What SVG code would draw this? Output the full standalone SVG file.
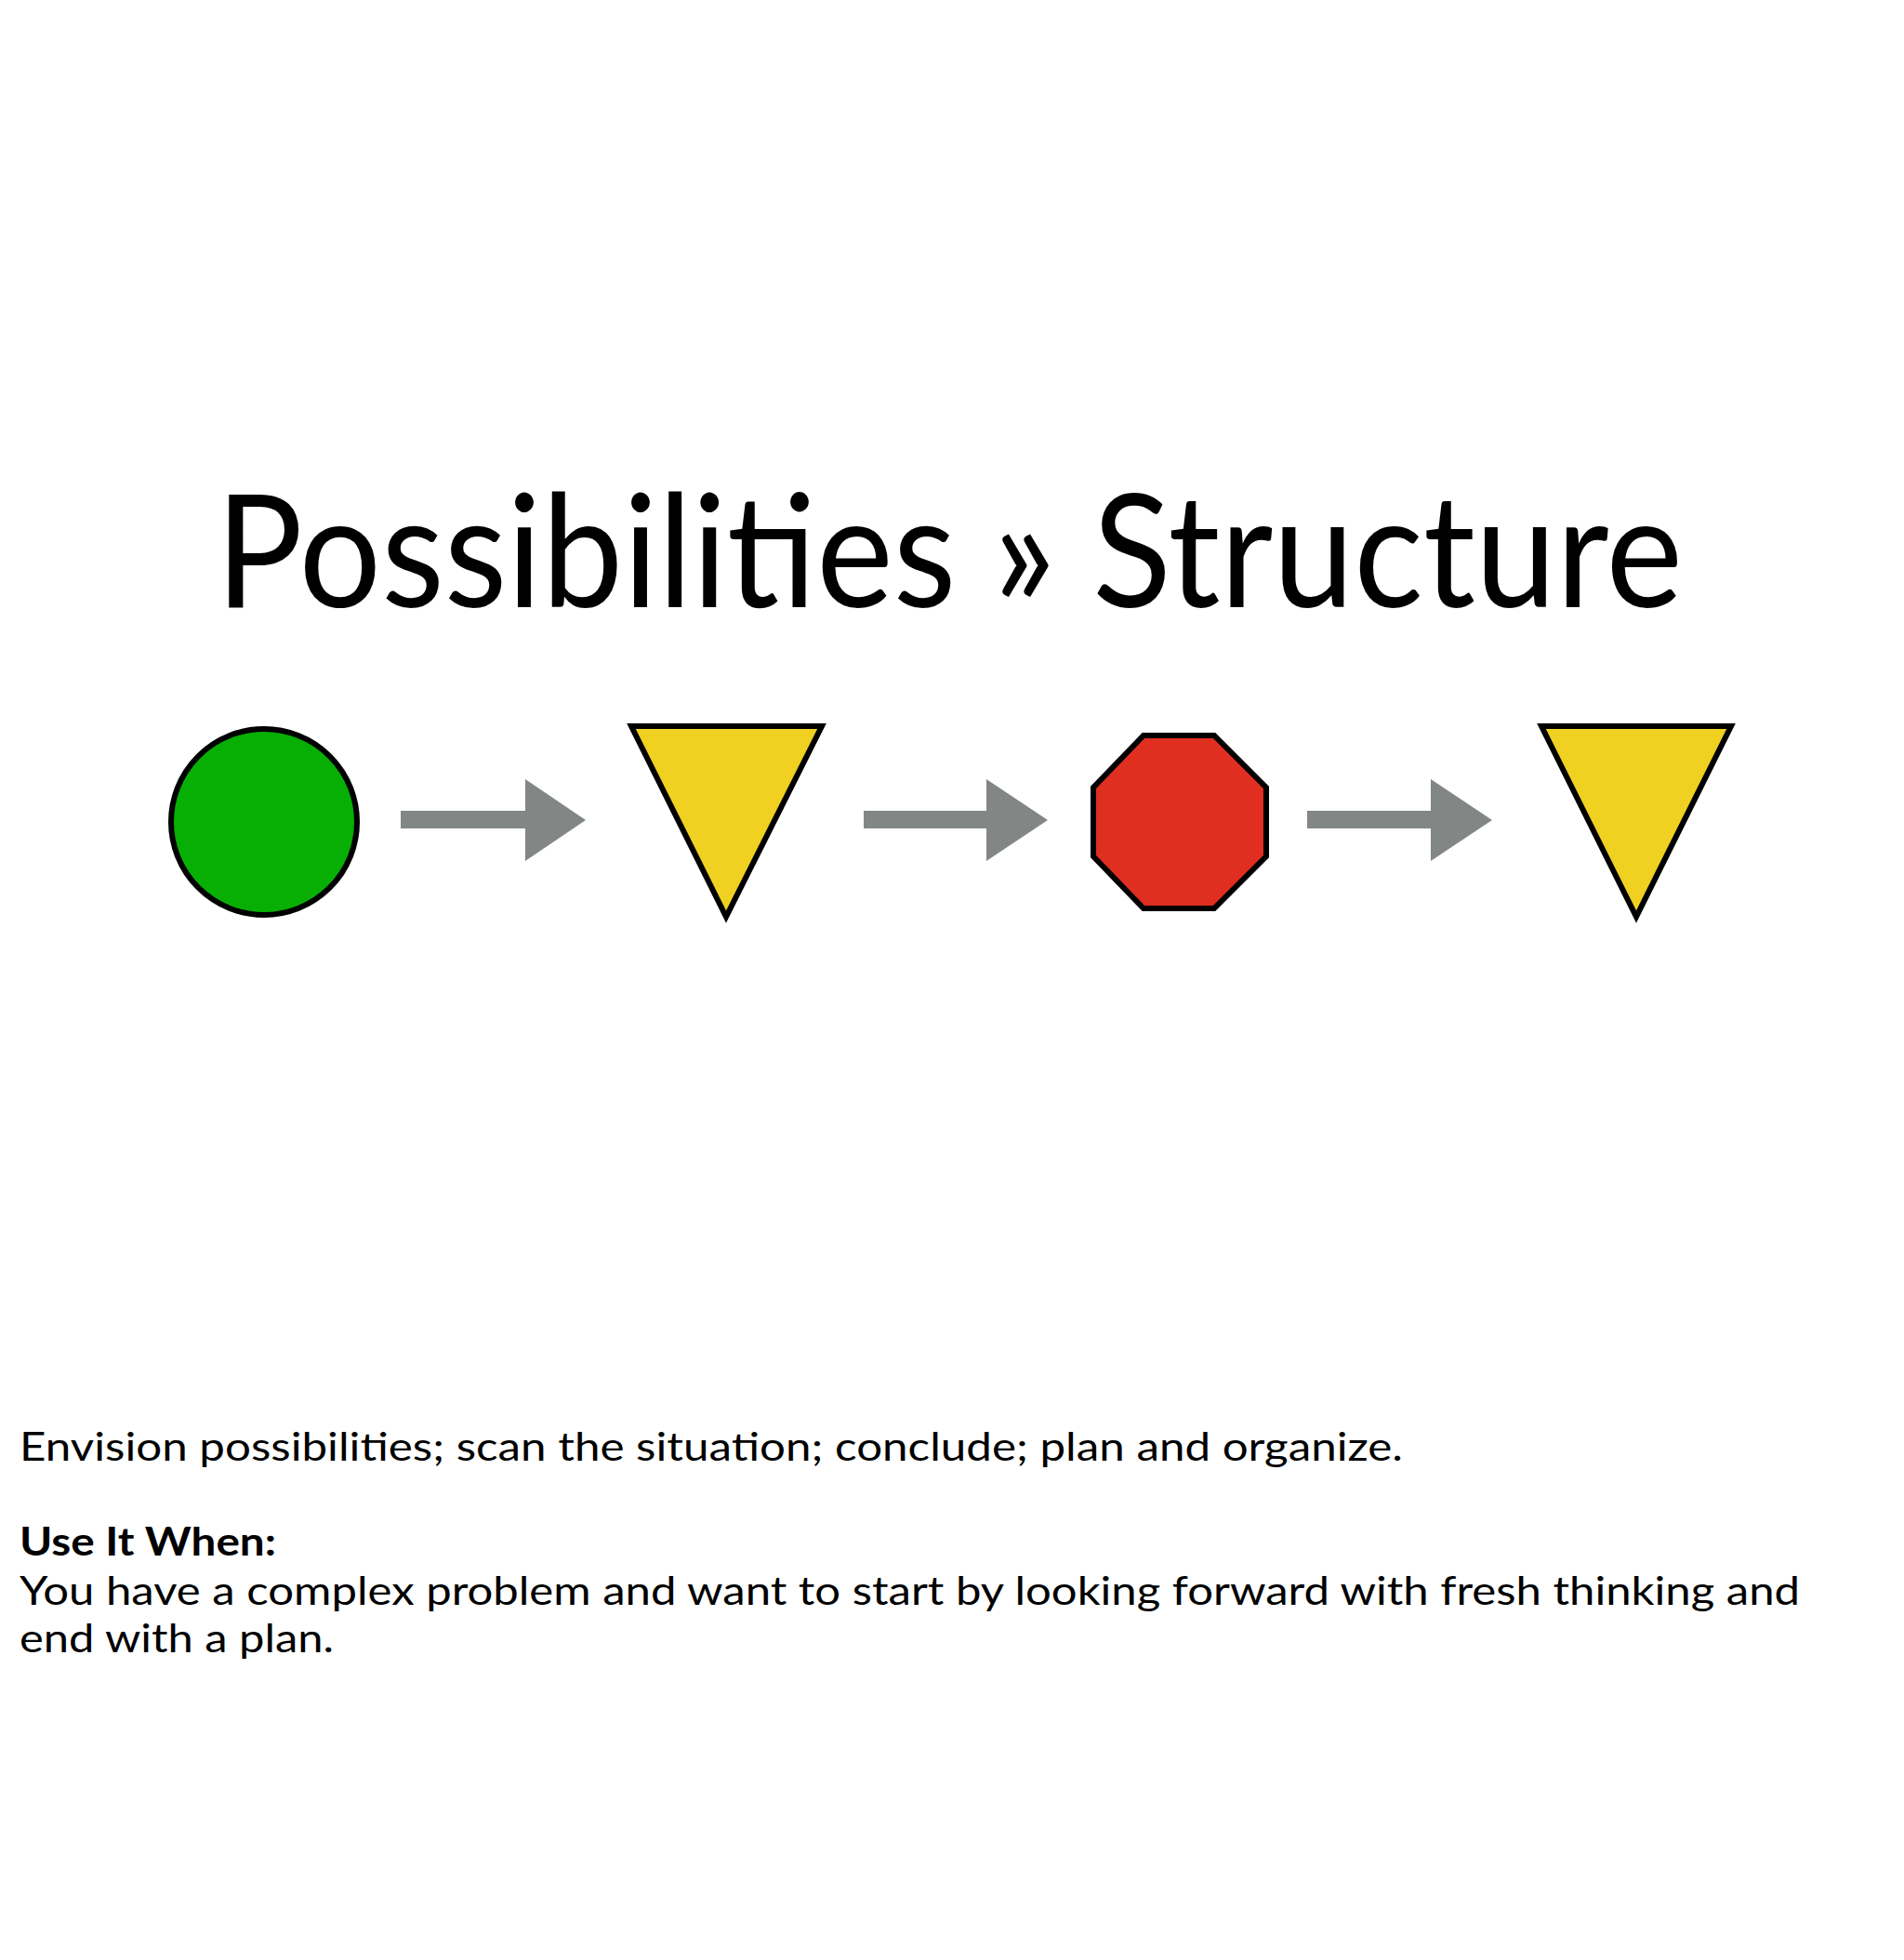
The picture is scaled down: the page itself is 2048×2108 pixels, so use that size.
<svg xmlns="http://www.w3.org/2000/svg" width="2048" height="2108" viewBox="0 0 2048 2108">
<style>
.sh{stroke:#000;stroke-width:6}
.ar{fill:#828785}
.t{font-family:"Lato","Liberation Sans",sans-serif;fill:#000}
</style>
<rect width="2048" height="2108" fill="#fff"/>
<text class="t" x="232" y="653" font-size="168" textLength="1578" lengthAdjust="spacingAndGlyphs">Possibilities » Structure</text>
<g id="circle"><circle class="sh" cx="284" cy="884" r="100" fill="#07AF05"/></g>
<g id="tri1"><polygon class="sh" points="679,781 884,781 781,986" fill="#F0D020"/></g>
<g id="oct"><polygon class="sh" points="1230,791 1306,791 1362,847 1362,921 1306,977 1230,977 1176,921 1176,847" fill="#E02E20"/></g>
<g id="tri2"><polygon class="sh" points="1658,781 1862,781 1760,986" fill="#F0D020"/></g>
<g id="connectors">
<polygon class="ar" points="431,872 565,872 565,838 630,882 565,926 565,891 431,891"/>
<polygon class="ar" points="929,872 1061,872 1061,838 1127,882 1061,926 1061,891 929,891"/>
<polygon class="ar" points="1406,872 1539,872 1539,838 1605,882 1539,926 1539,891 1406,891"/>
</g>
<text class="t" x="21" y="1571" font-size="42" textLength="1488" lengthAdjust="spacingAndGlyphs">Envision possibilities; scan the situation; conclude; plan and organize.</text>
<text class="t" x="21" y="1673" font-size="42" font-weight="bold" textLength="276" lengthAdjust="spacingAndGlyphs">Use It When:</text>
<text class="t" x="21" y="1726" font-size="42" textLength="1915" lengthAdjust="spacingAndGlyphs">You have a complex problem and want to start by looking forward with fresh thinking and</text>
<text class="t" x="21" y="1777" font-size="42" textLength="338" lengthAdjust="spacingAndGlyphs">end with a plan.</text>
</svg>
